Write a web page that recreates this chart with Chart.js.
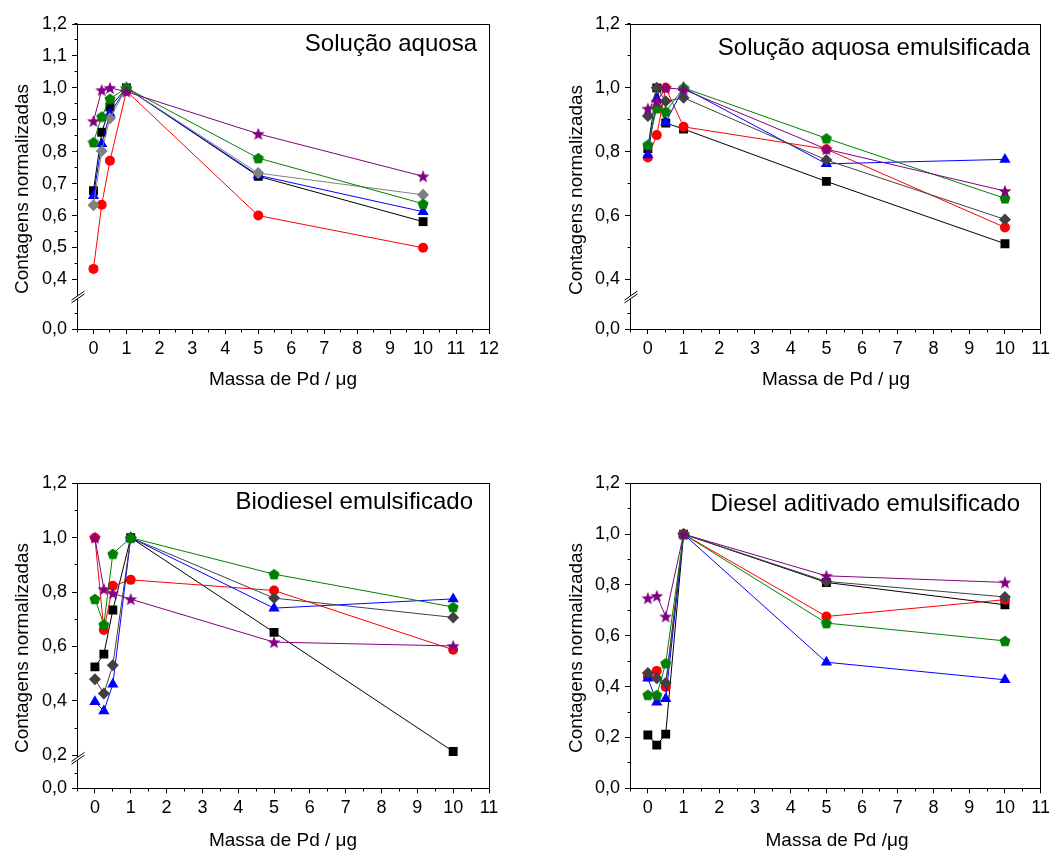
<!DOCTYPE html>
<html lang="pt">
<head>
<meta charset="utf-8">
<title>Contagens normalizadas em função da massa de Pd</title>
<script src="https://cdn.jsdelivr.net/npm/chart.js@4/dist/chart.umd.min.js"></script>
<style>
html,body{margin:0;padding:0;background:#fff;}
#wrap{position:relative;width:1054px;height:850px;overflow:hidden;font-family:"Liberation Sans",Arial,Helvetica,sans-serif;color:#000;}
#wrap canvas{position:absolute;}
.lbl{position:absolute;white-space:nowrap;line-height:1;}
.ctr{transform:translate(-50%,-50%);}
.rot{transform:translate(-50%,-50%) rotate(-90deg);}
.rgt{transform:translate(-100%,-50%);}
.axt{font-size:19px;}
.pan{font-size:24px;}
</style>
</head>
<body>
<div id="wrap">
  <canvas id="c1" width="527" height="425" style="left:0;top:0"></canvas>
  <canvas id="c2" width="527" height="425" style="left:527px;top:0"></canvas>
  <canvas id="c3" width="527" height="425" style="left:0;top:425px"></canvas>
  <canvas id="c4" width="527" height="425" style="left:527px;top:425px"></canvas>

  <div class="lbl pan rgt" style="left:477px;top:43px">Solução aquosa</div>
  <div class="lbl pan rgt" style="left:1030px;top:47px">Solução aquosa emulsificada</div>
  <div class="lbl pan rgt" style="left:473px;top:501px">Biodiesel emulsificado</div>
  <div class="lbl pan rgt" style="left:1020px;top:503px">Diesel aditivado emulsificado</div>

  <div class="lbl axt rot" style="left:21px;top:189px">Contagens normalizadas</div>
  <div class="lbl axt rot" style="left:575px;top:190px">Contagens normalizadas</div>
  <div class="lbl axt rot" style="left:21px;top:648px">Contagens normalizadas</div>
  <div class="lbl axt rot" style="left:575px;top:648px">Contagens normalizadas</div>

  <div class="lbl axt ctr" style="left:283px;top:378px">Massa de Pd / μg</div>
  <div class="lbl axt ctr" style="left:836px;top:378px">Massa de Pd / μg</div>
  <div class="lbl axt ctr" style="left:283px;top:839px">Massa de Pd / μg</div>
  <div class="lbl axt ctr" style="left:837px;top:839px">Massa de Pd /μg</div>
</div>

<script>
// ---------- data ----------
const massaPd = [0, 0.25, 0.5, 1, 5, 10];

// Solução aquosa
const aquosaPreto   = [0.678, 0.861, 0.940, 1.000, 0.723, 0.581];
const aquosaVermelho= [0.433, 0.634, 0.772, 0.990, 0.600, 0.499];
const aquosaAzul    = [0.662, 0.825, 0.920, 1.000, 0.726, 0.612];
const aquosaVerde   = [0.830, 0.910, 0.966, 1.000, 0.780, 0.637];
const aquosaRoxo    = [0.896, 0.993, 1.000, 0.988, 0.856, 0.723];
const aquosaCinza   = [0.632, 0.802, 0.905, 1.000, 0.733, 0.665];

// Solução aquosa emulsificada
const emulsPreto    = [0.810, 1.000, 0.890, 0.871, 0.707, 0.512];
const emulsVermelho = [0.782, 0.852, 1.000, 0.878, 0.808, 0.563];
const emulsAzul     = [0.790, 0.966, 0.892, 1.000, 0.762, 0.776];
const emulsVerde    = [0.822, 0.936, 0.926, 1.000, 0.842, 0.654];
const emulsRoxo     = [0.935, 0.957, 1.000, 0.995, 0.808, 0.677];
const emulsCinza    = [0.912, 1.000, 0.958, 0.969, 0.774, 0.588];

// Biodiesel emulsificado
const bioPreto      = [0.525, 0.572, 0.734, 1.000, 0.652, 0.214];
const bioVermelho   = [1.000, 0.661, 0.823, 0.845, 0.806, 0.588];
const bioAzul       = [0.397, 0.363, 0.461, 1.000, 0.741, 0.775];
const bioVerde      = [0.775, 0.681, 0.941, 1.000, 0.866, 0.745];
const bioRoxo       = [1.000, 0.811, 0.796, 0.774, 0.616, 0.602];
const bioCinza      = [0.480, 0.427, 0.531, 1.000, 0.778, 0.707];

// Diesel aditivado emulsificado
const dieselPreto   = [0.210, 0.170, 0.213, 1.000, 0.810, 0.722];
const dieselVermelho= [0.440, 0.462, 0.399, 1.000, 0.676, 0.742];
const dieselAzul    = [0.433, 0.339, 0.352, 1.000, 0.496, 0.427];
const dieselVerde   = [0.368, 0.367, 0.492, 1.000, 0.650, 0.580];
const dieselRoxo    = [0.748, 0.757, 0.676, 1.000, 0.836, 0.810];
const dieselCinza   = [0.454, 0.433, 0.414, 1.000, 0.814, 0.753];

// ---------- styling ----------
Chart.defaults.font.family = '"Liberation Sans", Arial, Helvetica, sans-serif';
Chart.defaults.font.size = 18;
Chart.defaults.color = '#000';

function markerCanvas(kind, color, size) {
  const c = document.createElement('canvas');
  c.width = size; c.height = size;
  const g = c.getContext('2d');
  g.fillStyle = color;
  g.beginPath();
  const cx = size / 2, cy = size / 2 + (kind === 'star' ? 0.6 : 0.5);
  const R = size / 2 - 0.2;
  if (kind === 'pentagon') {
    for (let i = 0; i < 5; i++) {
      const a = -Math.PI / 2 + i * 2 * Math.PI / 5;
      const px = cx + R * Math.cos(a), py = cy + R * Math.sin(a);
      if (i) g.lineTo(px, py); else g.moveTo(px, py);
    }
  } else {
    const r = R * 0.42;
    for (let i = 0; i < 10; i++) {
      const a = -Math.PI / 2 + i * Math.PI / 5;
      const rr = i % 2 ? r : R;
      const px = cx + rr * Math.cos(a), py = cy + rr * Math.sin(a);
      if (i) g.lineTo(px, py); else g.moveTo(px, py);
    }
  }
  g.closePath();
  g.fill();
  return c;
}

const C_PRETO = '#000000', C_VERM = '#ff0000', C_AZUL = '#0000ff',
      C_VERDE = '#008000', C_ROXO = '#800080';

function seriesStyles(cinza) {
  // listed top-most first (Chart.js draws index 0 last)
  return [
    {name: 'roxo',  color: C_ROXO,  style: markerCanvas('star', C_ROXO, 14), r: 6.5},
    {name: 'verde', color: C_VERDE, style: markerCanvas('pentagon', C_VERDE, 12), r: 5.5},
    {name: 'cinza', color: cinza,   style: 'rectRot', r: 6},
    {name: 'azul',  color: C_AZUL,  style: 'triangle', r: 6.5},
    {name: 'verm',  color: C_VERM,  style: 'circle', r: 5},
    {name: 'preto', color: C_PRETO, style: 'rect', r: 6.3}
  ];
}

function buildDatasets(seriesValues, cinza, axisId) {
  const st = seriesStyles(cinza);
  return st.map(s => ({
    label: s.name,
    data: massaPd.map((x, i) => ({x: x, y: seriesValues[s.name][i]})),
    yAxisID: axisId,
    borderColor: s.color,
    backgroundColor: s.color,
    borderWidth: 1,
    pointStyle: s.style,
    pointRadius: s.r,
    pointHoverRadius: s.r,
    pointBorderWidth: 0,
    pointBackgroundColor: s.color,
    tension: 0,
    fill: false
  }));
}

const fmtY = v => Number(v).toFixed(1).replace('.', ',');

function xScale(max, height) {
  return {
    type: 'linear', axis: 'x', position: 'bottom', min: -0.5, max: max,
    ticks: {stepSize: 1, includeBounds: false, padding: 4, maxRotation: 0, autoSkip: false,
            callback: v => String(v), font: {size: 18}},
    grid: {display: true, drawOnChartArea: false, drawTicks: true, tickLength: 5, color: '#000', lineWidth: 1},
    border: {display: false},
    afterFit: s => { s.height = height; }
  };
}

function yScale(opts) {
  const step = opts.step;
  const sc = {
    type: 'linear', axis: 'y', position: 'left', min: opts.min, max: opts.max,
    ticks: {stepSize: step, includeBounds: false, padding: 5, callback: fmtY, font: {size: 18}, autoSkip: false},
    grid: {display: true, drawOnChartArea: false, drawTicks: true, tickLength: 5, color: '#000', lineWidth: 1},
    border: {display: false},
    afterFit: s => { s.width = 40; },
    afterBuildTicks: s => {
      // major ticks on whole multiples of the step inside the scale range
      const out = [];
      const k0 = Math.ceil(s.min / step - 1e-6), k1 = Math.floor(s.max / step + 1e-6);
      for (let k = k0; k <= k1; k++) {
        const v = Math.round(k * step * 1000) / 1000;
        if (!opts.onlyZero || v === 0) out.push({value: v});
      }
      s.ticks = out;
    }
  };
  if (opts.stack) { sc.stack = opts.stack; sc.stackWeight = opts.weight; }
  return sc;
}

const ax = p => Math.round(p - 0.5) + 0.5;

function decoPlugin(minor, breakAxis) {
  return {
    id: 'deco',
    afterDraw(chart) {
      const ctx = chart.ctx, a = chart.chartArea;
      ctx.save();
      ctx.strokeStyle = '#000';
      ctx.lineWidth = 1;
      // minor ticks
      ctx.beginPath();
      minor.forEach(m => {
        const s = chart.scales[m.id];
        const start = Math.ceil(s.min / m.step - 1e-6);
        for (let k = start; k * m.step <= s.max + 1e-9; k++) {
          const v = k * m.step;
          const p = s.getPixelForValue(v);
          if (breakAxis && s.axis === 'y') {
            const yb = chart.scales[breakAxis].bottom;
            if (Math.abs(p - yb) < 4) continue;
          }
          if (s.axis === 'x') {
            ctx.moveTo(ax(p), ax(a.bottom)); ctx.lineTo(ax(p), ax(a.bottom) + 3);
          } else {
            ctx.moveTo(ax(a.left), ax(p)); ctx.lineTo(ax(a.left) - 3, ax(p));
          }
        }
      });
      ctx.stroke();
      // frame
      ctx.strokeRect(ax(a.left), ax(a.top), ax(a.right) - ax(a.left), ax(a.bottom) - ax(a.top));
      // axis break on the left axis
      if (breakAxis) {
        const yb = chart.scales[breakAxis].bottom;
        const x = ax(a.left);
        const dxL = 6, dxR = 7, h = 4.5, g = 1.4;
        ctx.fillStyle = '#fff';
        ctx.beginPath();
        ctx.moveTo(x - dxL, yb - g + h);
        ctx.lineTo(x + dxR, yb - g - h);
        ctx.lineTo(x + dxR, yb + g - h);
        ctx.lineTo(x - dxL, yb + g + h);
        ctx.closePath();
        ctx.fill();
        ctx.beginPath();
        ctx.moveTo(x - dxL, yb - g + h); ctx.lineTo(x + dxR, yb - g - h);
        ctx.moveTo(x - dxL, yb + g + h); ctx.lineTo(x + dxR, yb + g - h);
        ctx.stroke();
      }
      ctx.restore();
    }
  };
}

function makeChart(id, cfg) {
  const scales = {x: xScale(cfg.xMax, cfg.xHeight)};
  let axisId = 'y';
  if (cfg.broken) {
    scales.yL = yScale({min: 0, max: 0.1, step: 0.1, stack: 'v', weight: cfg.wL, onlyZero: true});
    scales.yU = yScale({min: cfg.yMin, max: 1.2, step: cfg.yStep, stack: 'v', weight: cfg.wU});
    axisId = 'yU';
  } else {
    scales.y = yScale({min: 0, max: 1.2, step: cfg.yStep});
  }
  const minor = [{id: 'x', step: 0.5}];
  if (cfg.broken) {
    minor.push({id: 'yU', step: cfg.yStep / 2});
    minor.push({id: 'yL', step: 0.05});
  } else {
    minor.push({id: 'y', step: cfg.yStep / 2});
  }
  return new Chart(document.getElementById(id), {
    type: 'line',
    data: {datasets: buildDatasets(cfg.values, cfg.cinza, axisId)},
    options: {
      responsive: false,
      animation: false,
      devicePixelRatio: 1,
      layout: {padding: cfg.padding},
      plugins: {legend: {display: false}, tooltip: {enabled: false}, title: {display: false}},
      events: [],
      scales: scales
    },
    plugins: [decoPlugin(minor, cfg.broken ? 'yU' : null)]
  });
}

makeChart('c1', {
  values: {preto: aquosaPreto, verm: aquosaVermelho, azul: aquosaAzul, verde: aquosaVerde, roxo: aquosaRoxo, cinza: aquosaCinza},
  cinza: '#808080', xMax: 12, xHeight: 96, broken: true, yMin: 0.345, yStep: 0.1, wU: 273, wL: 32,
  padding: {left: 37, top: 24, right: 38, bottom: 0}
});
makeChart('c2', {
  values: {preto: emulsPreto, verm: emulsVermelho, azul: emulsAzul, verde: emulsVerde, roxo: emulsRoxo, cinza: emulsCinza},
  cinza: '#404040', xMax: 11, xHeight: 96, broken: true, yMin: 0.345, yStep: 0.2, wU: 273, wL: 32,
  padding: {left: 63, top: 24, right: 12, bottom: 0}
});
makeChart('c3', {
  values: {preto: bioPreto, verm: bioVermelho, azul: bioAzul, verde: bioVerde, roxo: bioRoxo, cinza: bioCinza},
  cinza: '#404040', xMax: 11, xHeight: 61.7, broken: true, yMin: 0.189, yStep: 0.2, wU: 275, wL: 30,
  padding: {left: 37, top: 58.3, right: 38, bottom: 0}
});
makeChart('c4', {
  values: {preto: dieselPreto, verm: dieselVermelho, azul: dieselAzul, verde: dieselVerde, roxo: dieselRoxo, cinza: dieselCinza},
  cinza: '#404040', xMax: 11, xHeight: 61.7, broken: false, yStep: 0.2,
  padding: {left: 63, top: 58.3, right: 12, bottom: 0}
});
</script>
</body>
</html>
